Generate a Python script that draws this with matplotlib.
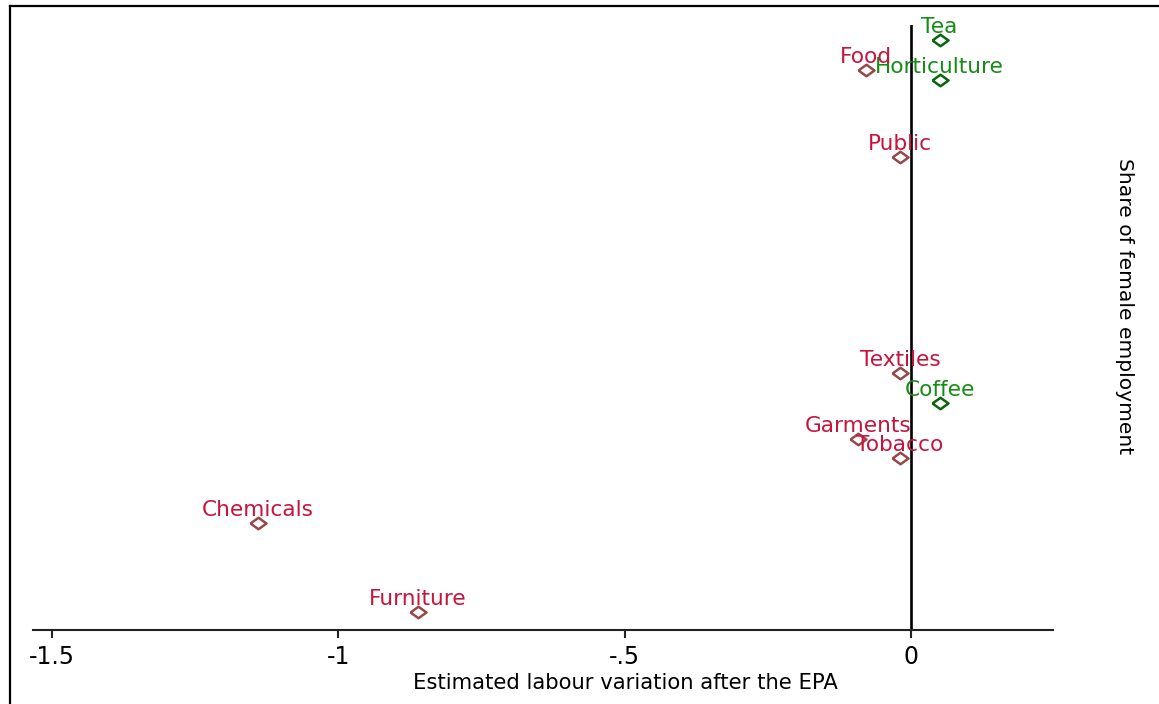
import matplotlib
matplotlib.use('Agg')
import matplotlib.pyplot as plt
from matplotlib.lines import Line2D

# Sector data
sectors = ['Tea', 'Horticulture', 'Food', 'Public', 'Textiles', 'Coffee',
           'Garments', 'Tobacco', 'Chemicals', 'Furniture']
labour_var = [0.05, 0.05, -0.079, -0.019, -0.019, 0.05, -0.093, -0.019, -1.140, -0.861]
female_share = [0.908, 0.846, 0.862, 0.728, 0.395, 0.349, 0.294, 0.265, 0.165, 0.028]
group = ['green', 'green', 'red', 'red', 'red', 'green', 'red', 'red', 'red', 'red']

xticks = [-1.5, -1, -0.5, 0]
xticklabels = ['-1.5', '-1', '-.5', '0']

text_col = {'red': '#c8143c', 'green': '#168c16'}
mark_col = {'red': '#984848', 'green': '#0a640a'}

# wide diamond (the original is stretched horizontally)
diamond = [(-1, 0), (0, 0.72), (1, 0), (0, -0.72), (-1, 0)]

fig = plt.figure(figsize=(11.59, 7.04), dpi=100)
ax = fig.add_axes([0.0285, 0.105, 0.88, 0.8595])

ax.axvline(0, color='black', lw=1.9, zorder=1)

for name, x, y, g in zip(sectors, labour_var, female_share, group):
    ax.plot(x, y, marker=diamond, ms=11.5, mfc='none', mec=mark_col[g], mew=1.8,
            ls='none', zorder=3, clip_on=False)
    ax.annotate(name, (x, y), xytext=(0, 9.5), textcoords='offset points',
                ha='center', va='center', fontsize=15.6, color=text_col[g],
                family='DejaVu Sans', zorder=4, annotation_clip=False)

ax.set_xlim(-1.533, 0.248)
ax.set_ylim(0, 0.931)

for s in ['top', 'left', 'right']:
    ax.spines[s].set_visible(False)
ax.spines['bottom'].set_linewidth(1.5)
ax.spines['bottom'].set_color('#222222')

ax.set_xticks(xticks)
ax.set_xticklabels(xticklabels, fontsize=17, family='DejaVu Sans')
ax.tick_params(axis='x', length=6, width=1.5, pad=5, color='#222222')
ax.set_yticks([])

ax.set_xlabel('Estimated labour variation after the EPA', fontsize=15.2, family='DejaVu Sans')
ax.xaxis.set_label_coords(0.581, -0.0876)
ax.xaxis.label.set_va('center')

ax.yaxis.set_label_position('right')
ax.set_ylabel('Share of female employment', fontsize=14.6, family='DejaVu Sans',
              rotation=270)
ax.yaxis.label.set_ha('center')
ax.yaxis.label.set_va('center')
ax.yaxis.set_label_coords(1.0706, 0.5355)

# partial frame around the graph (top and left edges)
fig.add_artist(Line2D([10 / 1159, 1], [1 - 6 / 704, 1 - 6 / 704], color='black', lw=1.6,
                      transform=fig.transFigure))
fig.add_artist(Line2D([10 / 1159, 10 / 1159], [0, 1 - 6 / 704], color='black', lw=1.6,
                      transform=fig.transFigure))

fig.savefig('out.png', dpi=100)
